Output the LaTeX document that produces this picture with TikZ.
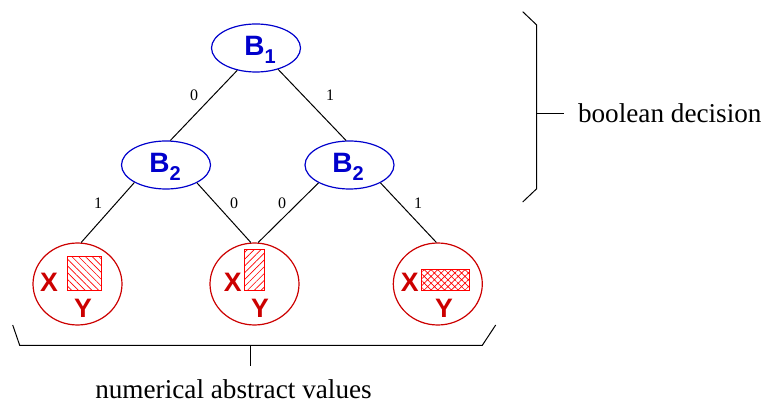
\documentclass[tikz,border=0pt]{standalone}
\usepackage{fontspec}
\setmainfont{Liberation Serif}
\setsansfont{Liberation Sans}
\usetikzlibrary{shapes.geometric,patterns.meta}
\definecolor{boolblue}{RGB}{0,0,204}
\definecolor{numred}{RGB}{204,0,0}
\newcommand{\boolvar}[1]{B\raisebox{-0.28em}{\fontsize{15}{15}\selectfont #1}}
\tikzset{every picture/.style={line width=0.75pt}}
\tikzset{
  boolnode/.style={ellipse,draw=boolblue,line width=0.9pt,minimum width=66.75pt,minimum height=36pt,inner sep=0pt},
  boollabel/.style={inner sep=0.75pt,text=boolblue,font=\sffamily\bfseries\fontsize{21}{21}\selectfont},
  numnode/.style={ellipse,draw=numred,line width=0.9pt,minimum width=66.75pt,minimum height=61.5pt,inner sep=0pt},
  numlabel/.style={inner sep=0.75pt,text=numred,font=\sffamily\bfseries\fontsize{20}{20}\selectfont},
  edgelabel/.style={inner sep=0.75pt,font=\fontsize{12}{12}\selectfont},
  bigtext/.style={inner sep=0pt,font=\fontsize{20.4}{20.4}\selectfont},
  hatchbox/.style={draw=red,line width=0.75pt,pattern color=red}
}

\begin{document}
\begin{tikzpicture}[x=0.75pt,y=0.75pt,yscale=-1,xscale=1]
\useasboundingbox (0,0) rectangle (763,402);
% Boolean nodes
\node [boolnode] (b1) at (256,48) {};
\node [boolnode] (b2l) at (166,165) {};
\node [boolnode] (b2r) at (349.5,165) {};
\node [boollabel] (b1t) at (260,50) {\boolvar{1}};
\node [boollabel] (b2lt) at (165,167) {\boolvar{2}};
\node [boollabel] (b2rt) at (348,167) {\boolvar{2}};
% Numerical nodes
\node [numnode] (n1) at (77.5,284) {};
\node [numnode] (n2) at (254.5,284) {};
\node [numnode] (n3) at (437.8,284) {};
% Abstract values
\draw [hatchbox,pattern={Lines[angle=-45,distance=3.6pt,line width=0.5pt]}] (67.3,256.7) rectangle (101.7,291);
\draw [hatchbox,pattern={Lines[angle=45,distance=3.6pt,line width=0.5pt]}] (244.3,250) rectangle (264.7,291);
\draw [hatchbox,pattern={Hatch[angle=45,distance=3.6pt,line width=0.5pt]}] (421,270) rectangle (469,291);
% Text Node
\node [numlabel] (x1) at (49,282) {X};
\node [numlabel] (y1) at (83,308) {Y};
\node [numlabel] (x2) at (232.7,282) {X};
\node [numlabel] (y2) at (260,308) {Y};
\node [numlabel] (x3) at (409.7,282) {X};
\node [numlabel] (y3) at (444,308) {Y};
% Tree edges
\draw (b1.230) -- (b2l.80);
\draw (b1.316) -- (b2r.98);
\draw (b2l.209) -- (n1.85);
\draw (b2l.330) -- (n2.95);
\draw (b2r.210) -- (n2.85);
\draw (b2r.330) -- (n3.92);
% Text Node
\node [edgelabel] (e0) at (194,95) {0};
\node [edgelabel] (e1) at (330,95) {1};
\node [edgelabel] (e2) at (98,203) {1};
\node [edgelabel] (e3) at (234,203) {0};
\node [edgelabel] (e4) at (282,203) {0};
\node [edgelabel] (e5) at (418,203) {1};
% Brackets
\coordinate (rt) at (522.7,11.7);
\coordinate (rm) at (536.7,114);
\coordinate (rb) at (522.7,202);
\coordinate (rk) at (563.5,114);
\draw (rt) -- (536.7,25) -- (536.7,188.7) -- (rb);
\draw (rm) -- (rk);
\coordinate (bl) at (12.7,325);
\coordinate (bm) at (250.7,345.3);
\coordinate (br) at (495.7,325);
\coordinate (bk) at (250.7,365.7);
\draw (bl) -- (19.7,345.3) -- (482.3,345.3) -- (br);
\draw (bm) -- (bk);
% Text Node
\node [bigtext,anchor=west] (bool) at (577.5,113) {boolean decision};
\node [bigtext] (num) at (233.5,389.5) {numerical abstract values};
\end{tikzpicture}
\end{document}
